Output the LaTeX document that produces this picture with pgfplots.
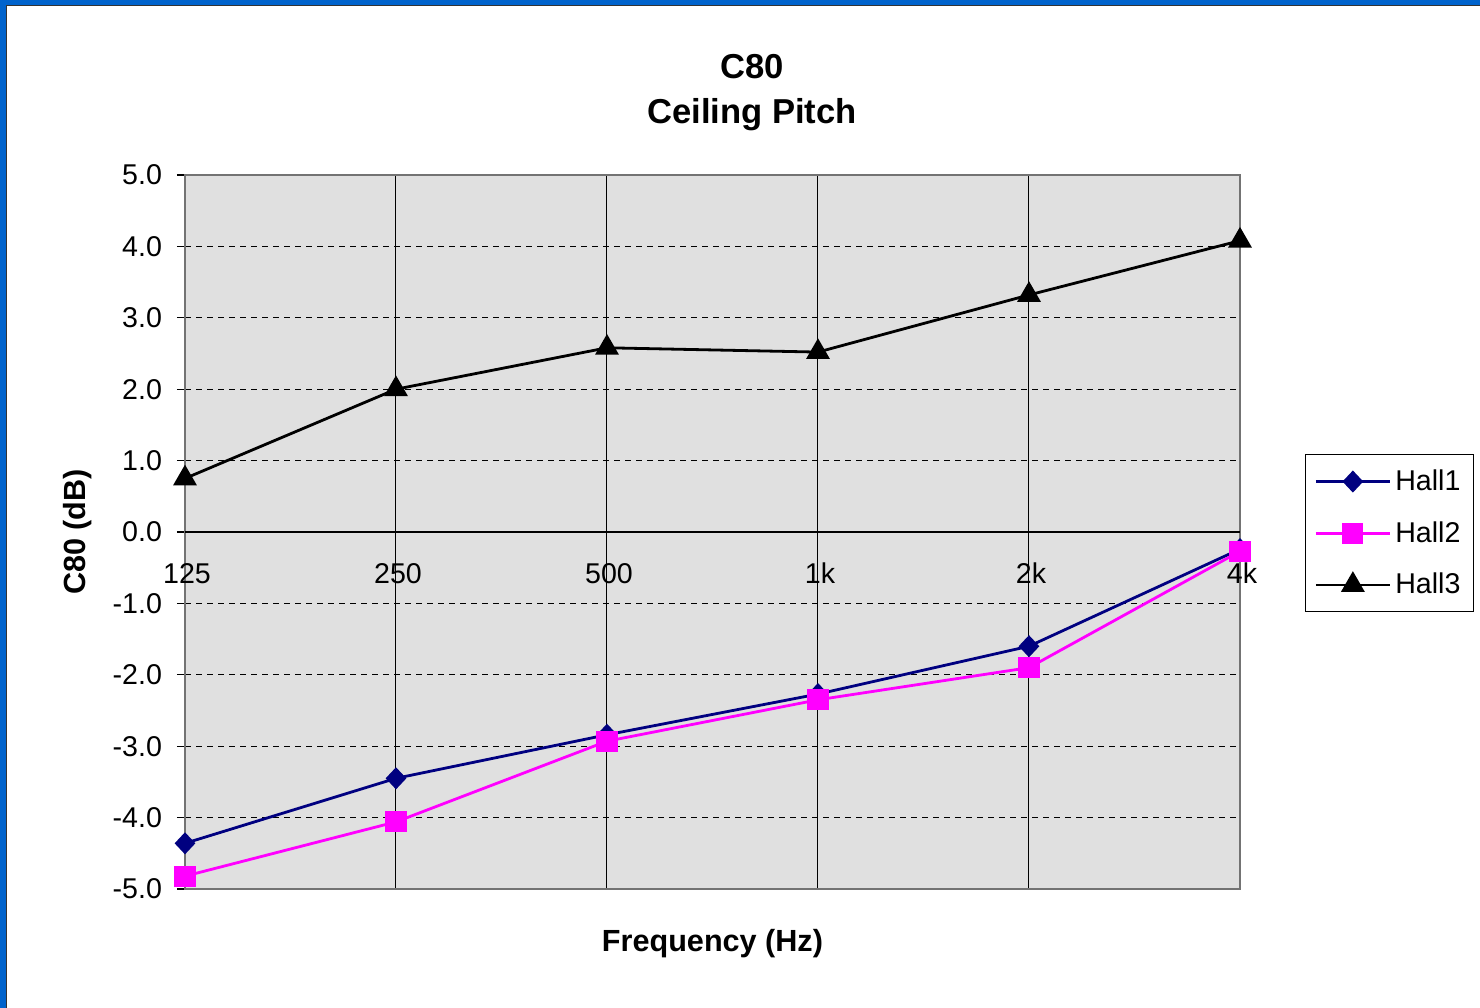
\documentclass[border=0pt]{standalone}
\usepackage{pgfplots}
\pgfplotsset{compat=1.18}
\usepackage{fontspec}
\setmainfont{Liberation Sans}
\definecolor{frameblue}{HTML}{0063CC}
\definecolor{plotbg}{HTML}{E0E0E0}
\definecolor{hallone}{HTML}{000080}
\definecolor{halltwo}{HTML}{FF00FF}
\begin{document}
\begin{tikzpicture}
\path[use as bounding box, fill=white] (0,0) rectangle (740pt,504pt);
\begin{axis}[
  at={(92.5pt,59.5pt)}, anchor=south west,
  scale only axis, width=527.5pt, height=357pt,
  xmin=0, xmax=5, ymin=-5, ymax=5,
  xtick={0,1,2,3,4,5},
  xticklabels={125,250,500,1k,2k,4k},
  ytick={-5,-4,...,5},
  ytick pos=left,
  /pgf/number format/assume math mode=true,
  yticklabel={\pgfmathprintnumber[fixed,fixed zerofill,precision=1]{\tick}},
  ticklabel style={font=\fontsize{14.3pt}{16pt}\selectfont},
  yticklabel style={xshift=-4pt},
  xticklabel style={anchor=base, yshift=156.5pt, xshift=1pt},
  x tick style={draw=none},
  y tick style={black, line width=0.6pt},
  tick align=outside, major tick length=4pt,
  axis line style={draw=gray!90!black, line width=1.2pt},
  axis background/.style={fill=plotbg},
  xmajorgrids, ymajorgrids,
  x grid style={black, line width=0.5pt},
  y grid style={black, line width=0.5pt, dash pattern=on 3pt off 2.5pt},
  extra y ticks={0}, extra y tick labels={},
  extra y tick style={y grid style={black, solid, line width=0.6pt}, major tick length=0pt},
  xlabel={Frequency (Hz)},
  ylabel={C80 (dB)},
  label style={font=\fontsize{15.3pt}{18pt}\selectfont\bfseries},
  xlabel style={at={(rel axis cs:0.5,-0.0765)}, anchor=center},
  ylabel style={at={(rel axis cs:-0.1014,0.5)}, anchor=center},
  title={C80\\[-0.5pt]Ceiling Pitch},
  title style={at={(rel axis cs:0.5374,1.098)}, anchor=center, align=center, font=\fontsize{17.3pt}{23pt}\selectfont\bfseries},
  legend style={at={(rel axis cs:1.0616,0.609)}, anchor=north west,
    draw=black, line width=0.5pt, fill=white,
    font=\fontsize{14.3pt}{16pt}\selectfont,
    row sep=10pt, inner xsep=4.5pt, inner ysep=5.5pt},
  legend cell align=left,
  legend image code/.code={\draw[mark repeat=2,mark phase=2] plot coordinates {(0pt,0pt)(18.5pt,0pt)(37pt,0pt)};},
]
\addplot[hallone, line width=1.4pt, mark=diamond*, mark size=4.5pt, mark options={solid, xscale=1.25, fill=hallone}]
  coordinates {(0,-4.36) (1,-3.45) (2,-2.84) (3,-2.27) (4,-1.60) (5,-0.24)};
\addlegendentry{Hall1}
\addplot[halltwo, line width=1.4pt, mark=square*, mark size=4.6pt, mark options={solid, fill=halltwo}]
  coordinates {(0,-4.82) (1,-4.06) (2,-2.93) (3,-2.35) (4,-1.90) (5,-0.27)};
\addlegendentry{Hall2}
\addplot[black, line width=1.4pt, mark=triangle*, mark size=5.5pt, mark options={solid, fill=black}]
  coordinates {(0,0.75) (1,2.00) (2,2.58) (3,2.52) (4,3.32) (5,4.08)};
\addlegendentry{Hall3}
\end{axis}
\fill[frameblue] (0,504pt) rectangle (740pt,501.5pt);
\fill[frameblue] (0,0) rectangle (3pt,504pt);
\draw[black!80, line width=0.6pt] (3.3pt,0) -- (3.3pt,501.2pt) -- (740pt,501.2pt);
\end{tikzpicture}
\end{document}
